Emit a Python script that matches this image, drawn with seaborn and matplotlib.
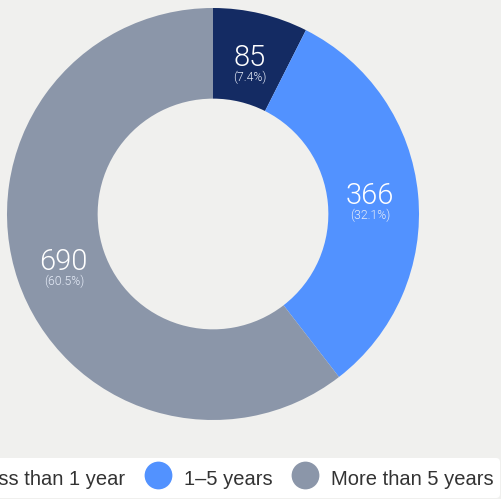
import matplotlib
matplotlib.use("Agg")
import matplotlib.pyplot as plt
from matplotlib.lines import Line2D
import numpy as np
import seaborn as sns

# data
categories = ["Less than 1 year", "1–5 years", "More than 5 years"]
counts = [85, 366, 690]
colors = ["#142b63", "#5292ff", "#8b96a9"]
bg = "#f0f0ee"

sns.set_style("white")
plt.rcParams["font.family"] = ["Liberation Sans", "DejaVu Sans"]

fig = plt.figure(figsize=(5.01, 4.99), dpi=100, facecolor=bg)
# pie centre ~ (213, 214) px, radius ~ 206 px
ax = fig.add_axes([(213 - 206) / 501, 1 - (214 + 206) / 499, 412 / 501, 412 / 499])
ax.set_facecolor(bg)

total = sum(counts)
wedges, _ = ax.pie(counts, colors=colors, startangle=90, counterclock=False,
                   radius=1.0, wedgeprops=dict(width=0.44, edgecolor="none"))
ax.set_aspect("equal")
ax.set_xlim(-1, 1)
ax.set_ylim(-1, 1)
ax.axis("off")

for w, c in zip(wedges, counts):
    ang = np.deg2rad((w.theta1 + w.theta2) / 2)
    r = 0.765
    x, y = r * np.cos(ang), r * np.sin(ang)
    ax.text(x, y + 0.015, f"{c}", color="white", fontsize=21, ha="center", va="center",
            family=["Roboto", "Liberation Sans"], fontweight=300)
    ax.text(x, y - 0.08, f"({c / total * 100:.1f}%)", color="#e6ecf8", fontsize=8.8,
            ha="center", va="center", family=["Roboto", "Liberation Sans"], fontweight=300)

handles = [Line2D([], [], marker="o", linestyle="none", markersize=20,
                  markerfacecolor=col, markeredgecolor="none") for col in colors]
leg = fig.legend(handles, categories, loc="center", ncol=3,
                 bbox_to_anchor=(216.5 / 501, 1 - 478 / 499), frameon=True,
                 fontsize=14.5, handletextpad=0.7, columnspacing=1.1,
                 borderpad=0.35, handlelength=1.1, handleheight=1.6,
                 labelcolor="#333333")
leg.get_frame().set_facecolor("white")
leg.get_frame().set_edgecolor("none")
leg.get_frame().set_alpha(1)

fig.savefig("out.png", dpi=100, facecolor=bg)
